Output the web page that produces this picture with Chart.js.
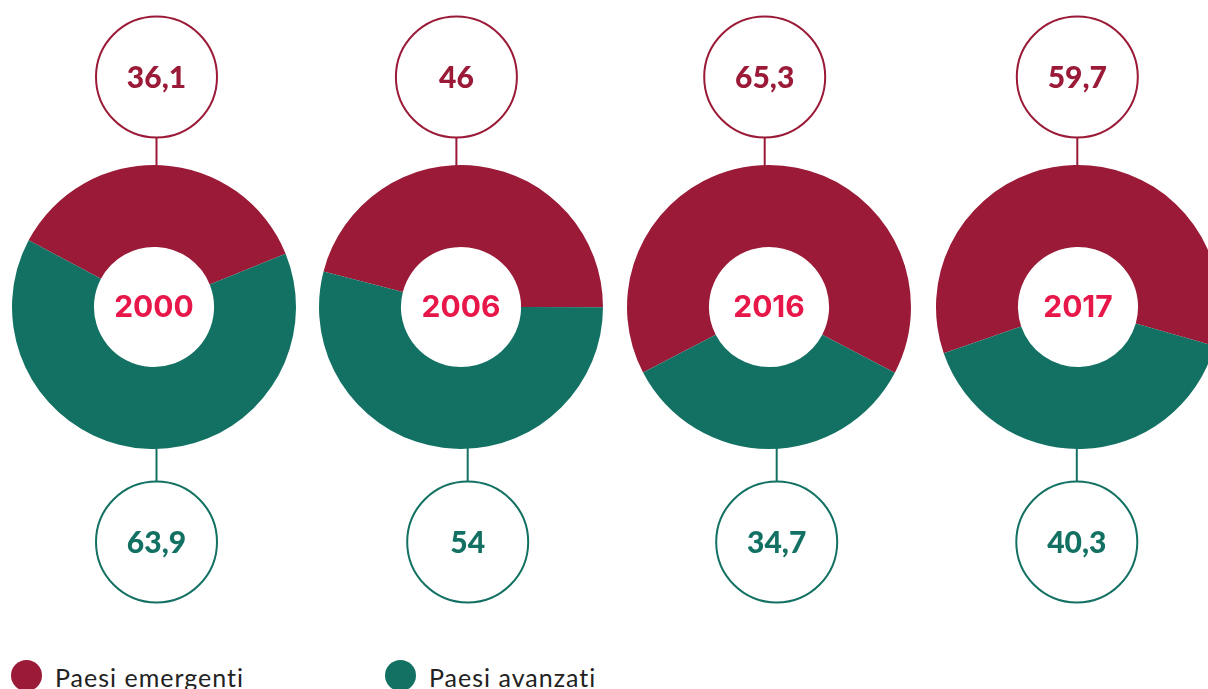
<!DOCTYPE html>
<html>
<head>
<meta charset="utf-8">
<script src="https://cdn.jsdelivr.net/npm/chart.js@4.4.0/dist/chart.umd.min.js"></script>
<style>
  html, body { margin:0; padding:0; background:#fff; }
  body { width:1208px; height:689px; overflow:hidden; position:relative; }
  canvas.donut { position:absolute; top:0; }
  .lg-dot { position:absolute; width:31px; height:31px; border-radius:50%; top:660px; }
  .lg-txt { position:absolute; top:662px; font:400 25px/30px Lato, "Open Sans", sans-serif; letter-spacing:1px; color:#222; white-space:nowrap; }
</style>
</head>
<body>
<div id="legend"></div>
<script>
// ---- data ----
const years = ['2000', '2006', '2016', '2017'];
const seriesNames = ['Paesi emergenti', 'Paesi avanzati'];
const emergenti = [36.1, 46, 65.3, 59.7];
const avanzati = [63.9, 54, 34.7, 40.3];

// ---- styles / layout ----
const RED = '#9A1A37';
const GREEN = '#127163';
const YEAR_COLOR = '#E8174A';
const canvasLefts = [0, 307, 615, 924];
const rotations = [-62, -75.5, -117.5, -109];
const topShift = [2.5, -4.6, -4.3, -0.7];
const bottomShift = [2.5, 6.7, 7.7, -1.2];
const BUBBLE_R = 60.5;
const TOP_GAP = 27.5;
const BOTTOM_GAP = 32.5;

function fmt(v) { return String(v).replace('.', ','); }

function bubble(ctx, x, y, color, text) {
  ctx.save();
  ctx.beginPath();
  ctx.arc(x, y, BUBBLE_R, 0, Math.PI * 2);
  ctx.fillStyle = '#fff';
  ctx.fill();
  ctx.lineWidth = 2;
  ctx.strokeStyle = color;
  ctx.stroke();
  ctx.fillStyle = color;
  ctx.font = '900 30px Lato, "Open Sans", sans-serif';
  ctx.textAlign = 'center';
  ctx.textBaseline = 'alphabetic';
  ctx.fillText(text, x, y + 10.8);
  ctx.restore();
}

const annotate = {
  id: 'annotate',
  beforeDatasetsDraw(chart) {
    const i = chart.options.plugins.annotate.index;
    const arc = chart.getDatasetMeta(0).data[0];
    const ctx = chart.ctx;
    const cx = arc.x, cy = arc.y, R = arc.outerRadius;
    ctx.save();
    ctx.lineWidth = 2;
    ctx.strokeStyle = RED;
    ctx.beginPath();
    ctx.moveTo(cx + topShift[i], cy - R - TOP_GAP);
    ctx.lineTo(cx + topShift[i], cy - R + 4);
    ctx.stroke();
    ctx.strokeStyle = GREEN;
    ctx.beginPath();
    ctx.moveTo(cx + bottomShift[i], cy + R - 4);
    ctx.lineTo(cx + bottomShift[i], cy + R + BOTTOM_GAP);
    ctx.stroke();
    ctx.restore();
  },
  afterDraw(chart) {
    const i = chart.options.plugins.annotate.index;
    const arc = chart.getDatasetMeta(0).data[0];
    const ctx = chart.ctx;
    const cx = arc.x, cy = arc.y, R = arc.outerRadius;
    bubble(ctx, cx + topShift[i], cy - R - TOP_GAP - BUBBLE_R, RED, fmt(emergenti[i]));
    bubble(ctx, cx + bottomShift[i], cy + R + BOTTOM_GAP + BUBBLE_R, GREEN, fmt(avanzati[i]));
    ctx.save();
    ctx.fillStyle = YEAR_COLOR;
    ctx.font = '700 30px Inter, "Liberation Sans", sans-serif';
    ctx.textAlign = 'center';
    ctx.textBaseline = 'alphabetic';
    ctx.fillText(years[i], cx, cy + 10);
    ctx.restore();
  }
};

function build() {
  years.forEach((year, i) => {
    const cv = document.createElement('canvas');
    cv.className = 'donut';
    cv.width = 308; cv.height = 689;
    cv.style.left = canvasLefts[i] + 'px';
    cv.style.width = '308px'; cv.style.height = '689px';
    document.body.appendChild(cv);
    new Chart(cv, {
      type: 'doughnut',
      data: {
        labels: seriesNames,
        datasets: [{
          data: [emergenti[i], avanzati[i]],
          backgroundColor: [RED, GREEN],
          borderWidth: 0,
          hoverOffset: 0,
          offset: 0
        }]
      },
      options: {
        responsive: false,
        animation: false,
        devicePixelRatio: 1,
        events: [],
        rotation: rotations[i],
        cutout: '42.3%',
        layout: { padding: { left: 12, right: 12, top: 165, bottom: 240 } },
        plugins: {
          legend: { display: false },
          tooltip: { enabled: false },
          annotate: { index: i }
        }
      },
      plugins: [annotate]
    });
  });
}

// ---- HTML legend ----
const legendLefts = [11, 385];
const legendColors = [RED, GREEN];
const lg = document.getElementById('legend');
seriesNames.forEach((name, k) => {
  const dot = document.createElement('div');
  dot.className = 'lg-dot';
  dot.style.left = legendLefts[k] + 'px';
  dot.style.background = legendColors[k];
  lg.appendChild(dot);
  const t = document.createElement('div');
  t.className = 'lg-txt';
  t.style.left = (legendLefts[k] + 44) + 'px';
  t.textContent = name;
  lg.appendChild(t);
});

Promise.all([
  document.fonts.load('700 30px Inter'),
  document.fonts.load('900 30px Lato')
]).then(build, build);
</script>
</body>
</html>
